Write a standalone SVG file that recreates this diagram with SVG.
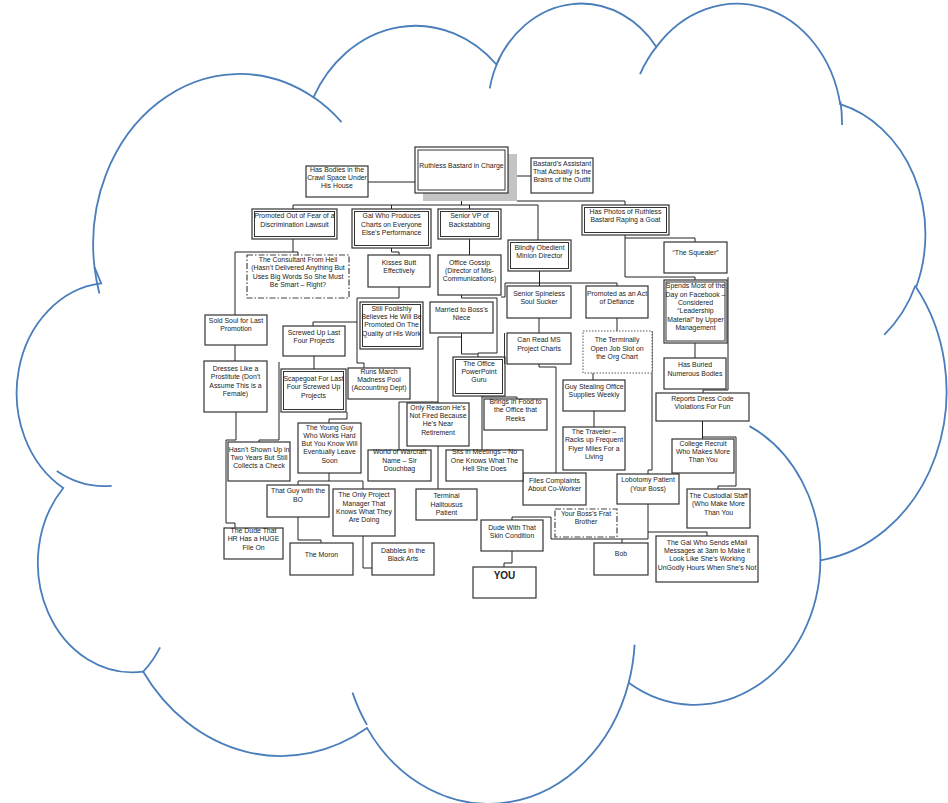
<svg xmlns="http://www.w3.org/2000/svg" width="948" height="803" viewBox="0 0 948 803">
<style>
.cloud{fill:#fff;stroke:#4a7ebb;stroke-width:1.8}
.tail{fill:none;stroke:#4a7ebb;stroke-width:1.8}
.box{fill:#fff;stroke:#333;stroke-width:1.2}
.inner{fill:none;stroke:#333;stroke-width:1}
.dashdot{fill:#fff;stroke:#444;stroke-width:1.2;stroke-dasharray:6 2 1.5 2}
.dotted{fill:#fff;stroke:#555;stroke-width:1;stroke-dasharray:1.5 1.5}
.shadow{fill:#c4c4c4}
.wire{fill:none;stroke:#222;stroke-width:1}
.wire-shade{fill:none;stroke:#c8c8c8;stroke-width:1}
text{font-family:"Liberation Sans",Arial,sans-serif;font-size:6.9px;fill:#222;text-anchor:middle}
.big{font-size:10px;font-weight:bold}
</style>
<rect width="948" height="803" fill="#fff"/>
<!-- cloud outline: eleven elliptical bumps -->
<path class="cloud" d="M94.5,267.1 A146.3,170.2 0 0 1 313.4,97.3 A115.5,134.6 0 0 1 496.5,64.5 A94.6,110.1 0 0 1 656.4,46.9 A105.2,122.1 0 0 1 840.2,104.2 A115.5,134.7 0 0 1 916.1,287.2 A146.8,170.7 0 0 1 820.4,560.3 A125.3,145.7 0 0 1 628.7,682.7 A146.3,170.6 0 0 1 367.1,728.1 A167.3,195.2 0 0 1 143.2,671.7 A94.5,109.6 0 0 1 63.3,488 A94.1,110.1 0 0 1 101.2,283.4 Z"/>
<!-- inner arcs where the bumps meet -->
<path class="tail" d="M111.7,485.8A94.1,110.1 0 0 1 56.8,471M160.1,647.3A94.5,109.6 0 0 1 143.2,671.7M367,724.9A146.3,170.6 0 0 1 352.5,692.6M634.6,644.6A146.3,170.6 0 0 1 628.7,682.7M749.5,426.1A125.3,145.7 0 0 1 820.4,560.3M915.6,285.3A115.5,134.7 0 0 1 884.2,334.9M840.4,101.5A105.2,122.1 0 0 1 842,124.9M640,74.2A105.2,122.1 0 0 1 656.4,46.9M489.7,88.4A94.6,110.1 0 0 1 499.5,58.1M313.3,97.1A146.3,170.2 0 0 1 341.5,122.1M99.4,293.4A146.3,170.2 0 0 1 94.5,267.1"/>
<g id="connectors">
<path class="wire" d="M368,182H415M508,169H512V176H531M461.5,193V205M293,205H538V240M293,205V209M391.5,205V209M469.5,205V209M517,201H625V205"/>
<path class="wire" d="M625,235V277H695V280M625,238H695V242M695,343V358M728,277V390H703V393M702.5,421V439M702.5,437H736V486H718V489"/>
<path class="wire" d="M293,239V252H235V315M293,252H298V255M235,345V361M236,412V440H226V523H235V528M279,362V440H259V442"/>
<path class="wire" d="M314,356V369M313,326V322H357M399,287V298H357V363H364V368M391.5,248V252H399V255M469.5,239V255"/>
<path class="wire" d="M461.5,295V298H497V353H478V357M501,297H505V283H617V286M539.5,271V286M461.5,333V354H478M461.5,337H438V402H399V450M438,402V403"/>
<path class="wire" d="M539,318V333M539,364V367H556V473M617,318V331M593,373V380M594,411V427M652,331V470H648V474M482,396V450M482,397H517V399M438,446V489"/>
<path class="wire" d="M347,412V419H329V423M329,473V481H298V485M329,481H363V489M298,517V540H321V543M363,536V568H372"/>
<path class="wire" d="M648,504V539H551V517H512V520M622,539V543M648,532H707V536M512,551V563H504V567"/>
</g>
<g id="n-ruthless"><rect class="shadow" x="423" y="154" width="94" height="47"/><rect class="box" x="415" y="147" width="93" height="46"/><rect class="inner" x="418" y="150" width="87" height="40"/><text x="461.5" y="168.4">Ruthless Bastard in Charge</text></g>
<g id="n-bodies"><rect class="box" x="306" y="166" width="62" height="31"/><text x="337" y="171.7">Has Bodies in the</text><text x="337" y="179.7">Crawl Space Under</text><text x="337" y="187.7">His House</text></g>
<g id="n-assistant"><rect class="box" x="531" y="158" width="62" height="35"/><text x="562" y="165.7">Bastard’s Assistant</text><text x="562" y="174">That Actually Is the</text><text x="562" y="182.4">Brains of the Outfit</text></g>
<g id="n-fear"><rect class="box" x="252" y="209" width="85" height="30"/><rect class="inner" x="254.5" y="211.5" width="80" height="25"/><text x="294.5" y="218.4">Promoted Out of Fear of a</text><text x="294.5" y="226.7">Discrimination Lawsuit</text></g>
<g id="n-gal"><rect class="box" x="352" y="209" width="79" height="39"/><rect class="inner" x="354.5" y="211.5" width="74" height="34"/><text x="391.5" y="218.4">Gal Who Produces</text><text x="391.5" y="226.7">Charts on Everyone</text><text x="391.5" y="235">Else’s Performance</text></g>
<g id="n-vp"><rect class="box" x="438" y="209" width="63" height="30"/><rect class="inner" x="440.5" y="211.5" width="58" height="25"/><text x="469.5" y="218.4">Senior VP of</text><text x="469.5" y="226.7">Backstabbing</text></g>
<g id="n-blindly"><rect class="box" x="508" y="240" width="63" height="31"/><rect class="inner" x="510.5" y="242.5" width="58" height="26"/><text x="539.5" y="249.7">Blindly Obedient</text><text x="539.5" y="258">Minion Director</text></g>
<g id="n-photos"><rect class="box" x="582" y="205" width="87" height="30"/><rect class="inner" x="584.5" y="207.5" width="82" height="25"/><text x="625.5" y="214.1">Has Photos of Ruthless</text><text x="625.5" y="222.4">Bastard Raping a Goat</text></g>
<g id="n-squealer"><rect class="box" x="664" y="242" width="63" height="31"/><text x="695.5" y="255.1">“The Squealer”</text></g>
<g id="n-facebook"><rect class="box" x="664" y="280" width="63" height="63"/><rect class="inner" x="666" y="282" width="59" height="59"/><text x="695.5" y="288.4">Spends Most of the</text><text x="695.5" y="296.7">Day on Facebook –</text><text x="695.5" y="305">Considered</text><text x="695.5" y="313.4">“Leadership</text><text x="695.5" y="321.7">Material” by Upper</text><text x="695.5" y="330">Management</text></g>
<g id="n-buried"><rect class="box" x="664" y="358" width="62" height="31"/><text x="695" y="367.4">Has Buried</text><text x="695" y="375.7">Numerous Bodies</text></g>
<g id="n-dresscode"><rect class="box" x="656" y="393" width="93" height="28"/><text x="702.5" y="400.7">Reports Dress Code</text><text x="702.5" y="409">Violations For Fun</text></g>
<g id="n-recruit"><rect class="box" x="672" y="439" width="62" height="34"/><text x="703" y="445.7">College Recruit</text><text x="703" y="454">Who Makes More</text><text x="703" y="462.4">Than You</text></g>
<g id="n-custodial"><rect class="box" x="687" y="489" width="63" height="39"/><text x="718.5" y="498">The Custodial Staff</text><text x="718.5" y="506.4">(Who Make More</text><text x="718.5" y="514.7">Than You</text></g>
<g id="n-lobotomy"><rect class="box" x="617" y="474" width="62" height="30"/><text x="648" y="482.4">Lobotomy Patient</text><text x="648" y="490.7">(Your Boss)</text></g>
<g id="n-bob"><rect class="box" x="594" y="543" width="54" height="32"/><text x="621" y="556.4">Bob</text></g>
<g id="n-email"><rect class="box" x="656" y="536" width="102" height="46"/><text x="707" y="544.7">The Gal Who Sends eMail</text><text x="707" y="553">Messages at 3am to Make it</text><text x="707" y="561.4">Look Like She’s Working</text><text x="707" y="569.7">UnGodly Hours When She’s Not</text></g>
<g id="n-frat"><rect class="dashdot" x="555" y="509" width="62" height="28"/><text x="586" y="515.7">Your Boss’s Frat</text><text x="586" y="524">Brother</text></g>
<g id="n-files"><rect class="box" x="523" y="473" width="63" height="32"/><text x="554.5" y="483">Files Complaints</text><text x="554.5" y="491.4">About Co-Worker</text></g>
<g id="n-skin"><rect class="box" x="481" y="520" width="62" height="31"/><text x="512" y="529.7">Dude With That</text><text x="512" y="538">Skin Condition</text></g>
<g id="n-you"><rect class="box" x="473" y="567" width="63" height="31"/><text class="big" x="504.5" y="579.4">YOU</text></g>
<g id="n-meetings"><rect class="box" x="446" y="450" width="77" height="31"/><text x="484.5" y="454">Sits in Meetings – No</text><text x="484.5" y="462.7">One Knows What The</text><text x="484.5" y="471.4">Hell She Does</text></g>
<g id="n-halitosis"><rect class="box" x="416" y="489" width="61" height="31"/><text x="446.5" y="498.4">Terminal</text><text x="446.5" y="506.7">Halitousus</text><text x="446.5" y="515">Patient</text></g>
<g id="n-retirement"><rect class="box" x="407" y="403" width="62" height="43"/><text x="438" y="409.7">Only Reason He’s</text><text x="438" y="418">Not Fired Because</text><text x="438" y="426.4">He’s Near</text><text x="438" y="434.7">Retirement</text></g>
<g id="n-warcraft"><rect class="box" x="368" y="450" width="63" height="31"/><text x="399.5" y="454">World of Warcraft</text><text x="399.5" y="462.7">Name – Sir</text><text x="399.5" y="471.4">Douchbag</text></g>
<g id="n-food"><rect class="box" x="484" y="399" width="63" height="31"/><text x="515.5" y="404">Brings in Food to</text><text x="515.5" y="412.4">the Office that</text><text x="515.5" y="420.7">Reeks</text></g>
<g id="n-powerpoint"><rect class="box" x="453" y="357" width="52" height="39"/><rect class="inner" x="455.5" y="359.5" width="47" height="34"/><text x="479" y="365.7">The Office</text><text x="479" y="374">PowerPoint</text><text x="479" y="382.4">Guru</text></g>
<g id="n-msproject"><rect class="box" x="507" y="333" width="64" height="31"/><path class="inner" d="M504.5,333V364"/><text x="539" y="342.4">Can Read MS</text><text x="539" y="350.7">Project Charts</text></g>
<g id="n-spineless"><rect class="box" x="507" y="286" width="64" height="32"/><text x="539" y="295.7">Senior Spineless</text><text x="539" y="304">Soul Sucker</text></g>
<g id="n-defiance"><rect class="box" x="586" y="286" width="62" height="32"/><text x="617" y="295.7">Promoted as an Act</text><text x="617" y="304">of Defiance</text></g>
<g id="n-openslot"><rect class="dotted" x="583" y="331" width="69" height="42"/><text x="617" y="342.4">The Terminally</text><text x="617" y="350.7">Open Job Slot on</text><text x="617" y="359">the Org Chart</text></g>
<g id="n-stealing"><rect class="box" x="563" y="380" width="62" height="31"/><text x="594" y="389">Guy Stealing Office</text><text x="594" y="397.4">Supplies Weekly</text></g>
<g id="n-traveler"><rect class="box" x="563" y="427" width="62" height="43"/><text x="594" y="434">The Traveler –</text><text x="594" y="442.4">Racks up Frequent</text><text x="594" y="450.7">Flyer Miles For a</text><text x="594" y="459">Living</text></g>
<g id="n-kisses"><rect class="box" x="368" y="255" width="62" height="32"/><text x="399" y="264.7">Kisses Butt</text><text x="399" y="273">Effectively</text></g>
<g id="n-gossip"><rect class="box" x="438" y="255" width="63" height="40"/><text x="469.5" y="264.7">Office Gossip</text><text x="469.5" y="273">(Director of Mis-</text><text x="469.5" y="281.4">Communications)</text></g>
<g id="n-niece"><rect class="box" x="430" y="302" width="63" height="31"/><text x="461.5" y="311.7">Married to Boss’s</text><text x="461.5" y="319.7">Niece</text></g>
<g id="n-foolish"><rect class="box" x="360" y="302" width="63" height="47"/><rect class="inner" x="362.5" y="304.5" width="58" height="42"/><text x="391.5" y="310.7">Still Foolishly</text><text x="391.5" y="319">Believes He Will Be</text><text x="391.5" y="327.4">Promoted On The</text><text x="391.5" y="335.7">Quality of His Work</text></g>
<g id="n-madness"><rect class="box" x="348" y="368" width="62" height="31"/><text x="379" y="374">Runs March</text><text x="379" y="382">Madness Pool</text><text x="379" y="390">(Accounting Dept)</text></g>
<g id="n-screwed"><rect class="box" x="283" y="326" width="62" height="30"/><text x="314" y="335">Screwed Up Last</text><text x="314" y="343">Four Projects</text></g>
<g id="n-scapegoat"><rect class="box" x="281" y="369" width="65" height="43"/><rect class="inner" x="283.5" y="371.5" width="60" height="38"/><text x="313.5" y="380.7">Scapegoat For Last</text><text x="313.5" y="389">Four Screwed Up</text><text x="313.5" y="397.7">Projects</text></g>
<g id="n-soldsoul"><rect class="box" x="205" y="315" width="62" height="30"/><text x="236" y="323">Sold Soul for Last</text><text x="236" y="331.4">Promotion</text></g>
<g id="n-consultant"><rect class="dashdot" x="247" y="255" width="102" height="43"/><text x="298" y="261.7">The Consultant From Hell</text><text x="298" y="270.4">(Hasn’t Delivered Anything But</text><text x="298" y="278.9">Uses Big Words So She Must</text><text x="298" y="287.4">Be Smart – Right?</text></g>
<g id="n-prostitute"><rect class="box" x="204" y="361" width="63" height="51"/><text x="235.5" y="370.7">Dresses Like a</text><text x="235.5" y="379">Prostitute (Don’t</text><text x="235.5" y="387.7">Assume This is a</text><text x="235.5" y="396">Female)</text></g>
<g id="n-noshow"><rect class="box" x="228" y="442" width="62" height="39"/><text x="259" y="451.7">Hasn’t Shown Up in</text><text x="259" y="459.7">Two Years But Still</text><text x="259" y="467.7">Collects a Check</text></g>
<g id="n-youngguy"><rect class="box" x="298" y="423" width="63" height="50"/><text x="329.5" y="429.7">The Young Guy</text><text x="329.5" y="437.7">Who Works Hard</text><text x="329.5" y="445.7">But You Know Will</text><text x="329.5" y="454.1">Eventually Leave</text><text x="329.5" y="462.7">Soon</text></g>
<g id="n-bo"><rect class="box" x="267" y="485" width="62" height="32"/><text x="298" y="493.1">That Guy with the</text><text x="298" y="501.7">BO</text></g>
<g id="n-onlypm"><rect class="box" x="333" y="489" width="62" height="47"/><text x="364" y="497.4">The Only Project</text><text x="364" y="505.7">Manager That</text><text x="364" y="514.1">Knows What They</text><text x="364" y="522.4">Are Doing</text></g>
<g id="n-hrfile"><rect class="box" x="224" y="528" width="59" height="31"/><text x="253.5" y="533.1">The Dude That</text><text x="253.5" y="541.4">HR Has a HUGE</text><text x="253.5" y="549.7">File On</text></g>
<g id="n-moron"><rect class="box" x="290" y="543" width="63" height="32"/><text x="321.5" y="557.4">The Moron</text></g>
<g id="n-blackarts"><rect class="box" x="372" y="543" width="62" height="32"/><text x="403" y="553.1">Dabbles in the</text><text x="403" y="561.4">Black Arts</text></g>
</svg>
